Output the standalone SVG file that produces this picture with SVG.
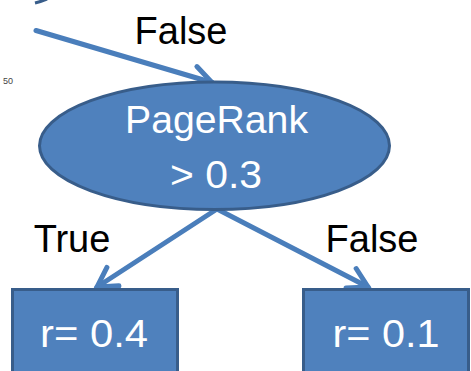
<svg xmlns="http://www.w3.org/2000/svg" width="471" height="371" viewBox="0 0 471 371">
<style>
.node{fill:#4f81bd;stroke:#385d8a;stroke-width:3}
.lbl{font-family:"Liberation Sans",Arial,sans-serif;font-size:38px;fill:#000;text-anchor:middle}
.in{font-family:"Liberation Sans",Arial,sans-serif;font-size:38px;fill:#fff;text-anchor:middle}
.edge{stroke:#4a7ebb;stroke-width:5;fill:none;stroke-linecap:round}
</style>
<defs>
<marker id="ah" markerUnits="userSpaceOnUse" markerWidth="26" markerHeight="26" viewBox="0 0 26 26" refX="22" refY="13" orient="auto" overflow="visible">
<path d="M3,2 L22,13 L3,24" fill="none" stroke="#4a7ebb" stroke-width="5" stroke-linecap="round" stroke-linejoin="miter"/>
</marker>
</defs>
<rect width="471" height="371" fill="#fff"/>
<text x="3" y="84" font-family="Liberation Sans,Arial,sans-serif" font-size="9" fill="#444">50</text>
<g id="prev">
<path d="M35,3 Q41,1.5 47,-1" fill="none" stroke="#385d8a" stroke-width="3"/>
</g>
<g id="connectors">
<line class="edge" x1="36" y1="30.5" x2="212" y2="82.5" marker-end="url(#ah)"/>
<line class="edge" x1="217" y1="209" x2="97" y2="287" marker-end="url(#ah)"/>
<line class="edge" x1="217" y1="209" x2="368" y2="287" marker-end="url(#ah)"/>
<text class="lbl" x="181" y="44">False</text>
<text class="lbl" x="72" y="252">True</text>
<text class="lbl" x="372" y="252">False</text>
</g>
<g id="pagerank">
<ellipse class="node" cx="214.5" cy="145.75" rx="175" ry="63.75"/>
<text class="in" x="216.5" y="133" textLength="183" lengthAdjust="spacingAndGlyphs">PageRank</text>
<text class="in" x="216" y="188" textLength="92" lengthAdjust="spacingAndGlyphs">&gt; 0.3</text>
</g>
<g id="leafTrue">
<rect class="node" x="12.5" y="289.5" width="165" height="95"/>
<text class="in" x="94" y="347" textLength="108" lengthAdjust="spacingAndGlyphs">r= 0.4</text>
</g>
<g id="leafFalse">
<rect class="node" x="303.5" y="289.5" width="165" height="95"/>
<text class="in" x="386" y="347" textLength="107" lengthAdjust="spacingAndGlyphs">r= 0.1</text>
</g>
</svg>
